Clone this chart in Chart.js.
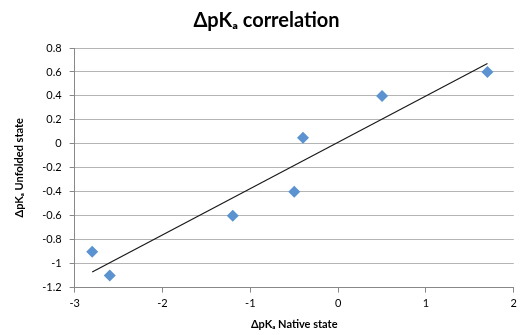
<!DOCTYPE html>
<html>
<head>
<meta charset="utf-8">
<script src="https://cdn.jsdelivr.net/npm/chart.js@4/dist/chart.umd.min.js"></script>
<style>
  html, body { margin: 0; padding: 0; background: #fff; }
  #wrap { width: 521px; height: 335px; }
</style>
</head>
<body>
<div id="wrap"><canvas id="chart"></canvas></div>
<script>
const nativeState = [-2.8, -2.6, -1.2, -0.5, -0.4, 0.5, 1.7];
const unfoldedState = [-0.9, -1.1, -0.6, -0.4, 0.05, 0.4, 0.6];
const trendX = [-2.8, 1.7];
const trendY = [-1.07, 0.67];
const xTicks = [-3, -2, -1, 0, 1, 2];
const yTicks = [-1.2, -1, -0.8, -0.6, -0.4, -0.2, 0, 0.2, 0.4, 0.6, 0.8];

const font = "Lato, 'Open Sans', sans-serif";

const ctx = document.getElementById('chart').getContext('2d');
const chart = new Chart(ctx, {
    type: 'scatter',
    data: {
        datasets: [
            {
                label: 'ΔpKa',
                data: nativeState.map((x, i) => ({ x: x, y: unfoldedState[i] })),
                pointStyle: 'rectRot',
                pointRadius: 6,
                backgroundColor: '#5b93d0',
                borderColor: '#5b93d0',
                borderWidth: 0
            },
            {
                label: 'Trend',
                data: trendX.map((x, i) => ({ x: x, y: trendY[i] })),
                showLine: true,
                pointRadius: 0,
                borderColor: '#1a1a1a',
                borderWidth: 1.2
            }
        ]
    },
    options: {
        responsive: true,
        maintainAspectRatio: false,
        animation: false,
        layout: { padding: { left: 13, right: 1, top: 5, bottom: 4 } },
        plugins: {
            legend: { display: false },
            tooltip: { enabled: false },
            title: {
                display: true,
                text: 'ΔpKₐ correlation',
                color: '#000',
                font: { family: font, size: 20, weight: 'bold' },
                padding: { top: 4, bottom: 15 }
            }
        },
        scales: {
            x: {
                type: 'linear',
                min: -3,
                max: 2,
                afterBuildTicks: axis => { axis.ticks = xTicks.map(v => ({ value: v })); },
                grid: {
                    drawOnChartArea: false,
                    drawTicks: true,
                    tickLength: 5,
                    color: '#888'
                },
                border: { color: '#888' },
                ticks: { color: '#000', font: { family: font, size: 11 }, padding: 4 },
                title: {
                    display: true,
                    text: 'ΔpKₐ Native state',
                    color: '#000',
                    font: { family: font, size: 11, weight: 'bold' },
                    padding: { top: 4, bottom: 0 }
                }
            },
            y: {
                type: 'linear',
                min: -1.2,
                max: 0.8,
                afterBuildTicks: axis => { axis.ticks = yTicks.map(v => ({ value: v })); },
                grid: {
                    color: '#b4b4b4',
                    lineWidth: 1,
                    drawTicks: true,
                    tickLength: 5,
                    tickColor: '#888'
                },
                border: { color: '#888' },
                ticks: {
                    color: '#000',
                    font: { family: font, size: 11 },
                    padding: 8,
                    callback: v => Math.round(v * 10) / 10
                },
                title: {
                    display: true,
                    text: 'ΔpKₐ Unfolded state',
                    color: '#000',
                    font: { family: font, size: 11, weight: 'bold' },
                    padding: { top: 0, bottom: 8 }
                }
            }
        }
    }
});
</script>
</body>
</html>
